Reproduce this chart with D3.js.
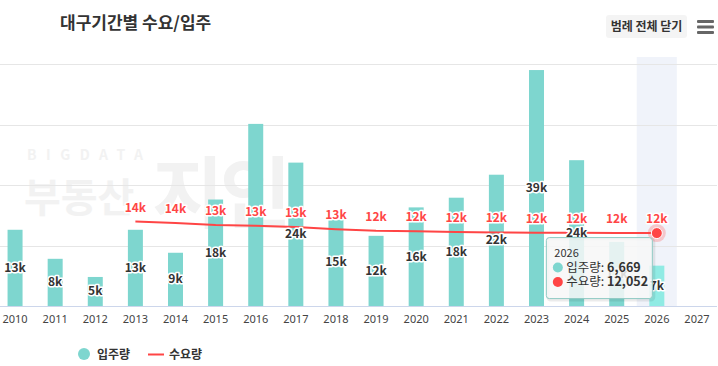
<!DOCTYPE html>
<html>
<head>
<meta charset="utf-8">
<script src="https://cdn.jsdelivr.net/npm/d3@7"></script>
<style>
  body { margin: 0; background: #fff; }
  svg { display: block; font-family: "Noto Sans CJK KR", "Noto Sans", sans-serif; }
</style>
</head>
<body>
<div id="chart"></div>
<script>
var years = ["2010","2011","2012","2013","2014","2015","2016","2017","2018","2019","2020","2021","2022","2023","2024","2025","2026","2027"];
// 입주량 (supply), null = no data
var supply = [12600, 7800, 4800, 12600, 8800, 17600, 30100, 23700, 14600, 11600, 16300, 17900, 21700, 39000, 24100, 10600, 6669, null];
// 수요량 (demand)
var demand = [null, null, null, 13950, 13700, 13400, 13250, 13050, 12700, 12450, 12350, 12220, 12150, 12120, 12090, 12070, 12052, null];
var yTicks = [0, 10000, 20000, 30000, 40000];
var hoverYear = "2026";

var width = 718, height = 366;
var plotTop = 64, plotBottom = 306;

var svg = d3.select("#chart").append("svg")
  .attr("width", width)
  .attr("height", height);

var x = d3.scaleBand().domain(years).range([-5, 717]);
var y = d3.scaleLinear().domain([0, 40000]).range([plotBottom, plotTop]);

var teal = "#7ed6cf", red = "#ff4545";

// title
svg.append("text")
  .attr("x", 60).attr("y", 29)
  .attr("font-size", 17).attr("font-weight", "bold")
  .attr("fill", "#333")
  .text("대구기간별 수요/입주");

// top right button
svg.append("rect")
  .attr("x", 606).attr("y", 15).attr("width", 81).attr("height", 23)
  .attr("rx", 3).attr("fill", "#f4f4f4");
svg.append("text")
  .attr("x", 646.5).attr("y", 31)
  .attr("text-anchor", "middle")
  .attr("font-size", 12).attr("font-weight", "bold").attr("fill", "#333")
  .text("범례 전체 닫기");
[21.5, 27, 32.5].forEach(function(yy){
  svg.append("rect").attr("x", 697).attr("y", yy - 1.5).attr("width", 17).attr("height", 3)
    .attr("rx", 1).attr("fill", "#666");
});

// watermark
var wm = svg.append("g").attr("fill", "#f2f2f2");
wm.append("text").attr("x", 27).attr("y", 160)
  .attr("font-size", 14).attr("letter-spacing", 9.5).attr("font-weight", "bold")
  .text("BIGDATA");
wm.append("text").attr("x", 24).attr("y", 212)
  .attr("font-size", 40).attr("font-weight", "bold")
  .text("부동산");
wm.append("text").attr("x", 152).attr("y", 222)
  .attr("font-size", 78).attr("font-weight", "bold").attr("letter-spacing", -4)
  .text("지인");

// hover band
svg.append("rect")
  .attr("x", x(hoverYear)).attr("y", 57)
  .attr("width", x.bandwidth()).attr("height", plotBottom - 57)
  .attr("fill", "#eef2f9").attr("opacity", 0.9);

// gridlines
svg.append("g").selectAll("line")
  .data(yTicks.slice(1))
  .enter().append("line")
    .attr("x1", 0).attr("x2", 717)
    .attr("y1", function(d){ return Math.round(y(d)) + 0.5; })
    .attr("y2", function(d){ return Math.round(y(d)) + 0.5; })
    .attr("stroke", "#e6e6e6");

// x axis
var xAxis = svg.append("g")
  .attr("transform", "translate(0," + plotBottom + ")")
  .call(d3.axisBottom(x).tickSize(0).tickPadding(9));
xAxis.select(".domain").attr("stroke", "#ccd6eb").attr("d", "M0,0.5H717");
xAxis.selectAll("text")
  .attr("font-size", 11).attr("fill", "#444")
  .attr("font-family", "'Noto Sans', sans-serif");

var data = years.map(function(yr, i){
  return { year: yr, supply: supply[i], demand: demand[i] };
});

// bars
var barW = 15;
svg.append("g").selectAll("rect")
  .data(data.filter(function(d){ return d.supply != null; }))
  .enter().append("rect")
    .attr("x", function(d){ return x(d.year) + x.bandwidth() / 2 - barW / 2; })
    .attr("y", function(d){ return y(d.supply); })
    .attr("width", barW)
    .attr("height", function(d){ return plotBottom - y(d.supply); })
    .attr("fill", function(d){ return d.year === hoverYear ? "#90ebe4" : teal; });

// demand line
var lineData = data.filter(function(d){ return d.demand != null; });
var line = d3.line()
  .x(function(d){ return x(d.year) + x.bandwidth() / 2; })
  .y(function(d){ return y(d.demand); });
svg.append("path")
  .datum(lineData)
  .attr("d", line)
  .attr("fill", "none")
  .attr("stroke", red)
  .attr("stroke-width", 2);

function fmtK(v){ return Math.round(v / 1000) + "k"; }

// demand labels
var lineLabels = svg.append("g").selectAll("text")
  .data(lineData)
  .enter().append("text")
    .attr("x", function(d){ return x(d.year) + x.bandwidth() / 2; })
    .attr("y", function(d){ return y(d.demand) - 10; })
    .attr("text-anchor", "middle")
    .attr("font-size", 12).attr("font-weight", "bold")
    .attr("fill", red)
    .attr("stroke", "#fff").attr("stroke-width", 3).attr("paint-order", "stroke")
    .attr("stroke-linejoin", "round")
    .text(function(d){ return fmtK(d.demand); });

// supply labels (hidden when they hit a demand label)
var labelBoxes = lineData.map(function(d){
  var cx = x(d.year) + x.bandwidth() / 2, cy = y(d.demand) - 14;
  return { x0: cx - 13, x1: cx + 13, y0: cy - 7, y1: cy + 7 };
});
svg.append("g").selectAll("text")
  .data(data.filter(function(d){
    if (d.supply == null) return false;
    var cx = x(d.year) + x.bandwidth() / 2;
    var cy = (y(d.supply) + plotBottom) / 2;
    return !labelBoxes.some(function(b){
      return cx + 10 > b.x0 && cx - 10 < b.x1 && cy + 6 > b.y0 && cy - 6 < b.y1;
    });
  }))
  .enter().append("text")
    .attr("x", function(d){ return x(d.year) + x.bandwidth() / 2; })
    .attr("y", function(d){ return (y(d.supply) + plotBottom) / 2 + 4; })
    .attr("text-anchor", "middle")
    .attr("font-size", 12).attr("font-weight", "bold")
    .attr("fill", "#333")
    .attr("stroke", "#fff").attr("stroke-width", 3).attr("paint-order", "stroke")
    .attr("stroke-linejoin", "round")
    .text(function(d){ return fmtK(d.supply); });

// hover marker
var hd = data.filter(function(d){ return d.year === hoverYear; })[0];
var hx = x(hd.year) + x.bandwidth() / 2, hy = y(hd.demand);
svg.append("circle").attr("cx", hx).attr("cy", hy).attr("r", 9)
  .attr("fill", red).attr("opacity", 0.25);
svg.append("circle").attr("cx", hx).attr("cy", hy).attr("r", 5.5)
  .attr("fill", red).attr("stroke", "#fff").attr("stroke-width", 1);

// tooltip
var tip = svg.append("g").attr("transform", "translate(" + (hx - 110.5) + "," + (hy + 4.5) + ")");
tip.append("rect")
  .attr("x", 1.5).attr("y", 1.5).attr("width", 106).attr("height", 61).attr("rx", 3)
  .attr("fill", "none").attr("stroke", "#000").attr("stroke-opacity", 0.08).attr("stroke-width", 3);
tip.append("rect")
  .attr("width", 106).attr("height", 61).attr("rx", 3)
  .attr("fill", "rgba(247,247,247,0.85)")
  .attr("stroke", "#8fc9c3").attr("stroke-width", 1);
tip.append("text").attr("x", 8).attr("y", 19)
  .attr("font-size", 11).attr("fill", "#333").text(hd.year);
var tipRows = [
  { name: "입주량", value: hd.supply, color: teal },
  { name: "수요량", value: hd.demand, color: red }
];
tipRows.forEach(function(r, i){
  var ry = 34 + i * 14.5;
  tip.append("circle").attr("cx", 11.5).attr("cy", ry - 4).attr("r", 5).attr("fill", r.color);
  var t = tip.append("text").attr("x", 20).attr("y", ry)
    .attr("font-size", 12.5).attr("fill", "#333");
  t.append("tspan").text(r.name + ": ");
  t.append("tspan").attr("font-weight", "bold").text(d3.format(",")(r.value));
});

// bottom legend
var lg = svg.append("g").attr("font-size", 12).attr("font-weight", "bold").attr("fill", "#333");
lg.append("circle").attr("cx", 84).attr("cy", 354).attr("r", 6).attr("fill", teal);
lg.append("text").attr("x", 97).attr("y", 358.5).text("입주량");
lg.append("line").attr("x1", 148).attr("x2", 164).attr("y1", 354.5).attr("y2", 354.5)
  .attr("stroke", red).attr("stroke-width", 2);
lg.append("text").attr("x", 169).attr("y", 358.5).text("수요량");
</script>
</body>
</html>
